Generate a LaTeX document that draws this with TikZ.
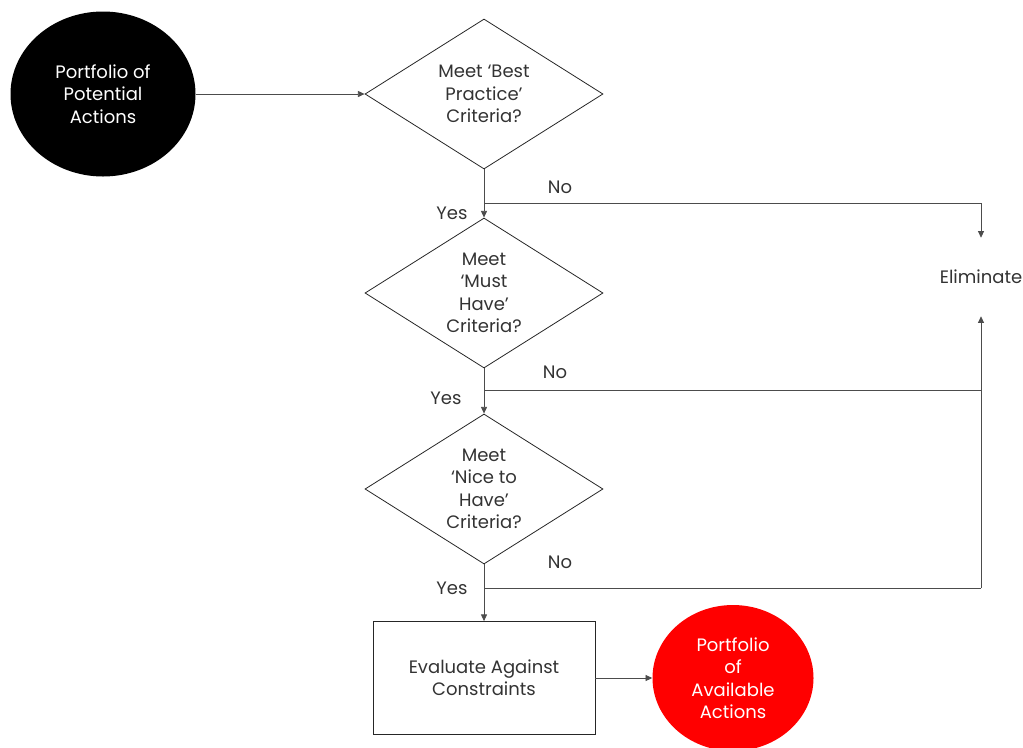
\documentclass[tikz,border=0pt]{standalone}
\usepackage{fontspec}
\setmainfont{Poppins}
\usetikzlibrary{arrows.meta,shapes.geometric}

\begin{document}
\begin{tikzpicture}[
  x=0.75pt, y=-0.75pt,
  font=\fontsize{13.5}{16.8}\selectfont,
  test/.style={diamond, draw=black!85, aspect=1.59, inner sep=0pt, minimum width=178.5pt, minimum height=112.5pt, align=center, line width=0.6pt, text=black!80},
  pool/.style={ellipse, inner sep=0pt, align=center, text=white},
  box/.style={draw=black!85, line width=0.6pt, align=center, minimum width=166.5pt, minimum height=84.75pt, text=black!80},
  lbl/.style={text=black!80, inner sep=0pt},
  line/.style={draw=black!70, line width=0.6pt},
  arr/.style={-{Triangle[length=5pt, width=4.5pt]}, line width=0.6pt, draw=black!70}
]
\useasboundingbox (0,0) rectangle (1023,747);
\node[pool, fill=black, minimum width=138.75pt, minimum height=123.75pt] (pot) at (103,94) {Portfolio of\\Potential\\Actions};
\node[test] (d1) at (484,94) {Meet ‘Best\\Practice’\\Criteria?};
\node[test] (d2) at (484,293) {Meet\\‘Must\\Have’\\Criteria?};
\node[test] (d3) at (484,489) {Meet\\‘Nice to\\Have’\\Criteria?};
\node[box] (eval) at (484,678) {Evaluate Against\\Constraints};
\node[pool, fill=red, minimum width=120.75pt, minimum height=109.5pt] (avail) at (733,678) {Portfolio\\of\\Available\\Actions};
\node[lbl, minimum height=58.5pt] (elim) at (981,277) {Eliminate};
% junctions of the No branches
\coordinate (j1) at (484,203);
\coordinate (j2) at (484,390);
\coordinate (j3) at (484,588);
\coordinate (e1) at (981,203);
\coordinate (e2) at (981,390);
\coordinate (e3) at (981,588);
\node[lbl] (no1) at (560,187) {No};
\node[lbl] (no2) at (555,372) {No};
\node[lbl] (no3) at (560,562) {No};
\node[lbl] (yes1) at (452,213) {Yes};
\node[lbl] (yes2) at (446,398) {Yes};
\node[lbl] (yes3) at (452,588) {Yes};
\draw[arr] (pot.east) -- (d1.west);
\draw[arr] (d1.south) -- (d2.north);
\draw[arr] (d2.south) -- (d3.north);
\draw[arr] (d3.south) -- (eval.north);
\draw[arr] (eval.east) -- (avail.west);
\draw[line] (j1) -- (e1);
\draw[arr] (e1) -- (elim.north);
\draw[line] (j2) -- (e2);
\draw[arr] (e3) -- (elim.south);
\draw[line] (j3) -- (e3);
\end{tikzpicture}
\end{document}
